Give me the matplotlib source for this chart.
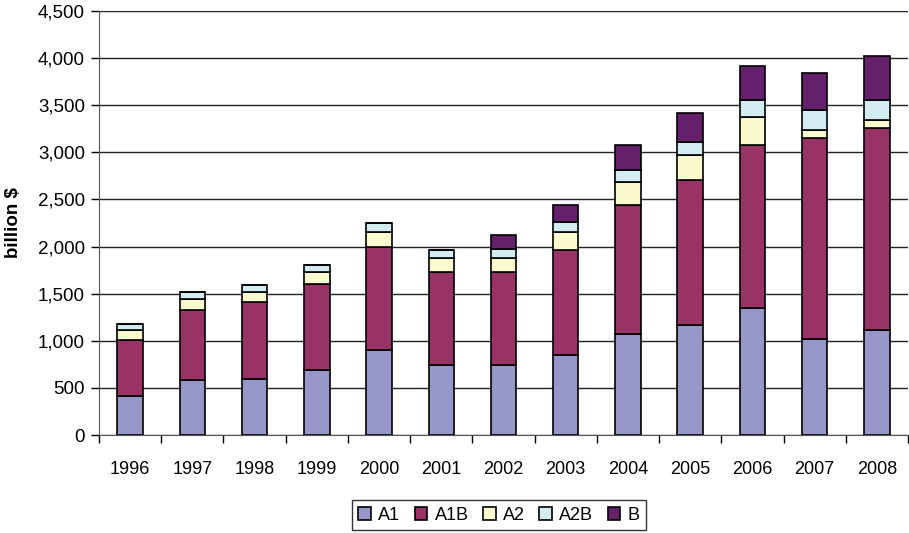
import matplotlib
matplotlib.use("Agg")
import matplotlib.pyplot as plt
import numpy as np
from matplotlib.ticker import FuncFormatter, MultipleLocator, FixedLocator

years = ["1996", "1997", "1998", "1999", "2000", "2001", "2002",
         "2003", "2004", "2005", "2006", "2007", "2008"]
A1 = [417, 580, 598, 687, 899, 740, 740, 846, 1075, 1168, 1345, 1022, 1115]
A1B = [588, 744, 814, 919, 1100, 990, 990, 1115, 1367, 1539, 1734, 2128, 2141]
A2 = [106, 123, 103, 128, 156, 146, 146, 197, 244, 265, 300, 88, 88]
A2B = [71, 74, 74, 71, 92, 91, 102, 106, 124, 142, 177, 212, 212]
B = [0, 0, 0, 0, 0, 0, 145, 181, 272, 304, 358, 393, 467]

series = [("A1", A1, "#9797C9"), ("A1B", A1B, "#993366"), ("A2", A2, "#FBF9CE"),
          ("A2B", A2B, "#D2ECF2"), ("B", B, "#64206A")]

plt.rcParams['font.family'] = ['Liberation Sans', 'DejaVu Sans']
fig = plt.figure(figsize=(9.09, 5.33), dpi=100)
ax = fig.add_axes([99/909, 1 - 435/533, 809/909, 424/533])

x = np.arange(len(years))
bottom = np.zeros(len(years))
for name, vals, col in series:
    v = np.array(vals, dtype=float)
    ax.bar(x, v, bottom=bottom, width=0.41, color=col, edgecolor="black",
           linewidth=1.2, label=name, zorder=3)
    bottom += v

ax.set_xlim(-0.5, len(years) - 0.5)
ax.set_ylim(0, 4500)
ax.yaxis.set_major_locator(MultipleLocator(500))
ax.yaxis.set_major_formatter(FuncFormatter(lambda v, p: f"{int(v):,}"))
ax.grid(axis="y", color="#222222", linewidth=1.0, zorder=0)
ax.set_xticks(x)
ax.set_xticklabels(years)
ax.xaxis.set_minor_locator(FixedLocator(np.arange(-0.5, len(years), 1.0)))
ax.tick_params(axis="x", which="major", length=0, pad=19, labelsize=13)
ax.tick_params(axis="x", which="minor", length=6, width=1, direction="out")
ax.tick_params(axis="y", length=6, width=1, labelsize=13.5, pad=4)
for s in ["top", "right"]:
    ax.spines[s].set_visible(False)
ax.spines["left"].set_color("#555555")
ax.spines["bottom"].set_color("#555555")
fig.text(14/909, 1 - 223/533, "billion $", rotation=90, ha="center", va="center",
         fontsize=13.5, fontweight="bold")

leg = ax.legend(loc="center", bbox_to_anchor=(499/909, 1 - 515/533),
                bbox_transform=fig.transFigure, ncol=5, frameon=True,
                fancybox=False, edgecolor="black", fontsize=13,
                handlelength=0.7, handleheight=0.7, handletextpad=0.4,
                columnspacing=0.8, borderpad=0.35)
leg.get_frame().set_linewidth(1.0)

fig.savefig("out.png", dpi=100)
